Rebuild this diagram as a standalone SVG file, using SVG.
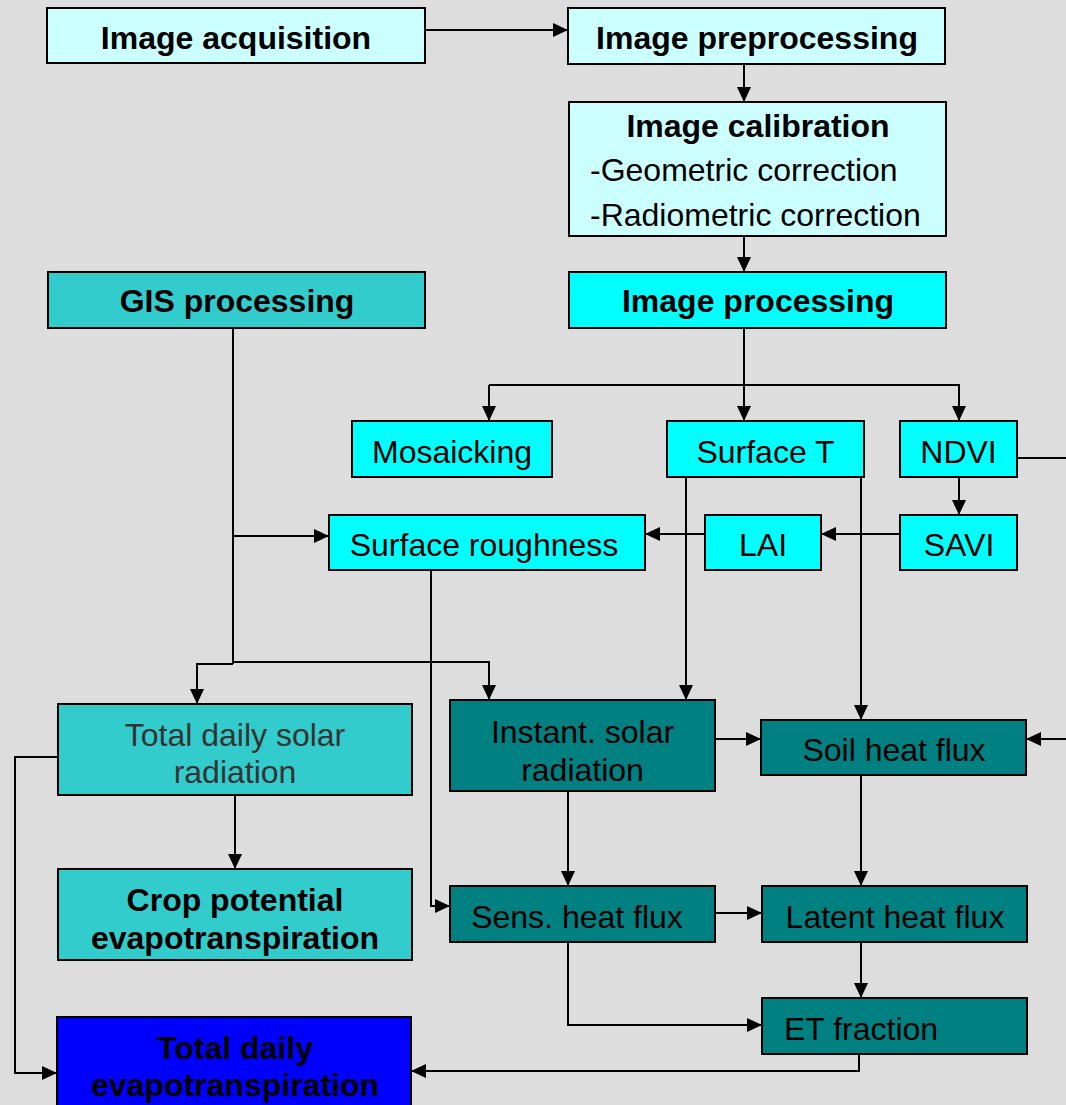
<svg xmlns="http://www.w3.org/2000/svg" width="1066" height="1105" viewBox="0 0 1066 1105">
<defs>
<marker id="ah" markerUnits="userSpaceOnUse" markerWidth="15" markerHeight="14" refX="15" refY="7" orient="auto">
<path d="M0,0 L15,7 L0,14 z" fill="#000"/>
</marker>
<style>
.box{stroke:#000;stroke-width:2}
.pale{fill:#ccffff}
.cyan{fill:#00ffff}
.teal{fill:#33cccc}
.dark{fill:#008080}
.blue{fill:#0000ff}
text{font-family:"Liberation Sans",Arial,sans-serif;font-size:32px;fill:#000}
.b{font-weight:bold}
.c{text-anchor:middle}
.g{fill:#333333}
.conn line,.conn polyline{stroke:#000;stroke-width:2;fill:none}
</style>
</defs>
<rect width="1066" height="1105" fill="#dddddd"/>

<g id="image-acquisition"><rect class="box pale" x="47" y="8" width="378" height="55"/><text class="b c" x="236" y="49">Image acquisition</text></g>
<g id="image-preprocessing"><rect class="box pale" x="568" y="8" width="377" height="56"/><text class="b c" x="757" y="49">Image preprocessing</text></g>
<g id="image-calibration"><rect class="box pale" x="569" y="102" width="377" height="134"/><text class="b c" x="758" y="137">Image calibration</text><text x="590" y="181">-Geometric correction</text><text x="590" y="226">-Radiometric correction</text></g>
<g id="gis-processing"><rect class="box teal" x="48" y="272" width="377" height="56"/><text class="b c" x="237" y="312">GIS processing</text></g>
<g id="image-processing"><rect class="box cyan" x="569" y="272" width="377" height="56"/><text class="b c" x="758" y="312">Image processing</text></g>
<g id="mosaicking"><rect class="box cyan" x="352" y="421" width="200" height="56"/><text class="c" x="452" y="463">Mosaicking</text></g>
<g id="surface-t"><rect class="box cyan" x="667" y="421" width="197" height="56"/><text class="c" x="765.5" y="463">Surface T</text></g>
<g id="ndvi"><rect class="box cyan" x="900" y="421" width="117" height="56"/><text class="c" x="958.5" y="463">NDVI</text></g>
<g id="surface-roughness"><rect class="box cyan" x="329" y="515" width="316" height="55"/><text class="c" x="484" y="556">Surface roughness</text></g>
<g id="lai"><rect class="box cyan" x="705" y="515" width="116" height="55"/><text class="c" x="763" y="556">LAI</text></g>
<g id="savi"><rect class="box cyan" x="900" y="515" width="117" height="55"/><text class="c" x="959" y="556">SAVI</text></g>
<g id="total-daily-solar"><rect class="box teal" x="58" y="704" width="354" height="91"/><text class="c g" x="235" y="746">Total daily solar</text><text class="c g" x="235" y="783">radiation</text></g>
<g id="instant-solar"><rect class="box dark" x="450" y="700" width="265" height="91"/><text class="c" x="582.5" y="743">Instant. solar</text><text class="c" x="582.5" y="781">radiation</text></g>
<g id="soil-heat-flux"><rect class="box dark" x="761" y="720" width="265" height="55"/><text class="c" x="894" y="761">Soil heat flux</text></g>
<g id="crop-potential-et"><rect class="box teal" x="58" y="869" width="354" height="91"/><text class="b c" x="235" y="911">Crop potential</text><text class="b c" x="235" y="949">evapotranspiration</text></g>
<g id="sens-heat-flux"><rect class="box dark" x="450" y="886" width="265" height="56"/><text class="c" x="577" y="928">Sens. heat flux</text></g>
<g id="latent-heat-flux"><rect class="box dark" x="762" y="886" width="265" height="56"/><text class="c" x="895" y="928">Latent heat flux</text></g>
<g id="et-fraction"><rect class="box dark" x="762" y="998" width="265" height="56"/><text x="784" y="1040">ET fraction</text></g>
<g id="total-daily-et"><rect class="box blue" x="57" y="1017" width="354" height="100"/><text class="b c" x="235" y="1059">Total daily</text><text class="b c" x="235" y="1096">evapotranspiration</text></g>

<g id="connectors" class="conn">
<line x1="425" y1="30" x2="568" y2="30" marker-end="url(#ah)"/>
<line x1="744" y1="64" x2="744" y2="102" marker-end="url(#ah)"/>
<line x1="744" y1="236" x2="744" y2="272" marker-end="url(#ah)"/>
<line x1="744" y1="328" x2="744" y2="421" marker-end="url(#ah)"/>
<polyline points="489,385 959,385 959,421" marker-end="url(#ah)"/>
<line x1="489" y1="385" x2="489" y2="421" marker-end="url(#ah)"/>
<line x1="1017" y1="458" x2="1066" y2="458"/>
<line x1="1066" y1="739" x2="1026" y2="739" marker-end="url(#ah)"/>
<line x1="959" y1="477" x2="959" y2="515" marker-end="url(#ah)"/>
<line x1="900" y1="534" x2="821" y2="534" marker-end="url(#ah)"/>
<line x1="705" y1="534" x2="645" y2="534" marker-end="url(#ah)"/>
<line x1="233" y1="328" x2="233" y2="664"/>
<line x1="233" y1="536" x2="329" y2="536" marker-end="url(#ah)"/>
<polyline points="233,662 489,662 489,700" marker-end="url(#ah)"/>
<polyline points="233,664 197,664 197,704" marker-end="url(#ah)"/>
<line x1="686" y1="477" x2="686" y2="700" marker-end="url(#ah)"/>
<line x1="861" y1="477" x2="861" y2="720" marker-end="url(#ah)"/>
<polyline points="431,570 431,906 450,906" marker-end="url(#ah)"/>
<line x1="715" y1="739" x2="761" y2="739" marker-end="url(#ah)"/>
<line x1="568" y1="791" x2="568" y2="886" marker-end="url(#ah)"/>
<line x1="861" y1="775" x2="861" y2="886" marker-end="url(#ah)"/>
<line x1="715" y1="913" x2="762" y2="913" marker-end="url(#ah)"/>
<line x1="861" y1="942" x2="861" y2="998" marker-end="url(#ah)"/>
<polyline points="568,942 568,1025 762,1025" marker-end="url(#ah)"/>
<polyline points="859,1054 859,1071 411,1071" marker-end="url(#ah)"/>
<polyline points="58,757 15,757 15,1073 57,1073" marker-end="url(#ah)"/>
<line x1="235" y1="795" x2="235" y2="869" marker-end="url(#ah)"/>
</g>
</svg>
